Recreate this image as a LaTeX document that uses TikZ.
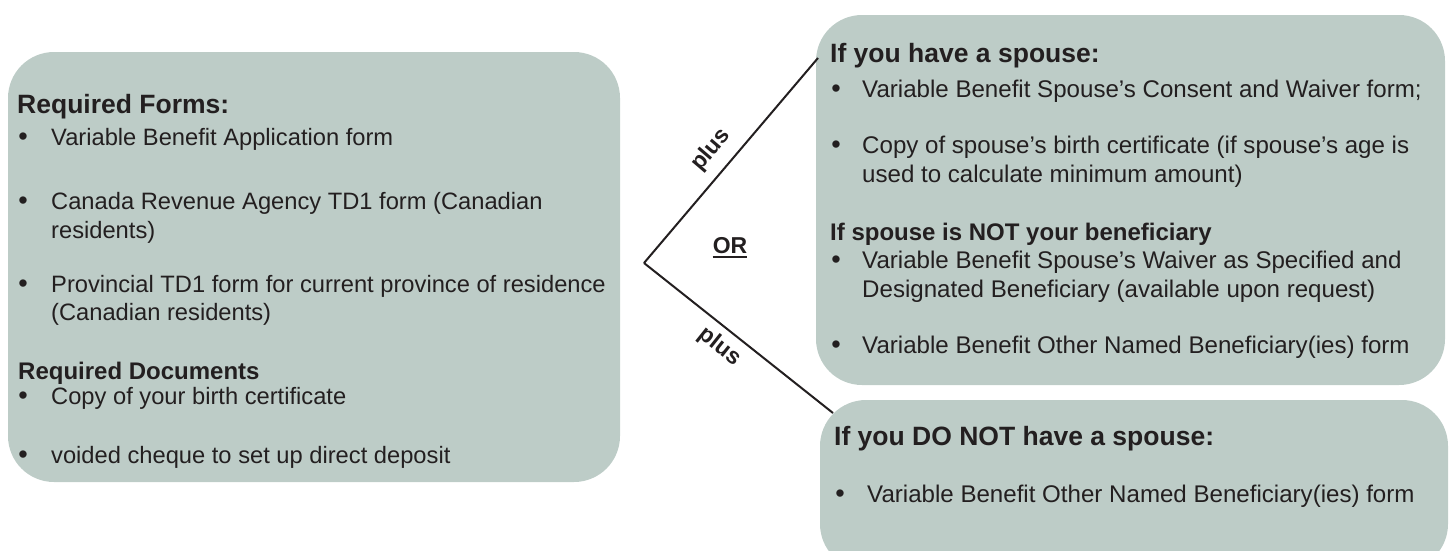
\documentclass[tikz,border=0pt]{standalone}
\usepackage{fontspec}
\setmainfont{Liberation Sans}
\definecolor{boxfill}{HTML}{BDCCC7}
\definecolor{ink}{HTML}{231F20}
\begin{document}
\begin{tikzpicture}[x=1pt,y=-1pt,
  panel/.style={fill=boxfill, draw=none, rounded corners=46pt, inner sep=0pt},
  body/.style={anchor=base west, inner sep=0pt, text=ink, font=\fontsize{23.7}{28}\selectfont},
  bodyr/.style={anchor=base west, inner sep=0pt, text=ink, font=\fontsize{24.1}{28}\selectfont},
  bul/.style={anchor=base, inner sep=0pt, text=ink, font=\fontsize{27}{28}\selectfont},
  head/.style={anchor=base west, inner sep=0pt, text=ink, font=\fontsize{26.5}{30}\selectfont\bfseries},
  subhead/.style={anchor=base west, inner sep=0pt, text=ink, font=\fontsize{24}{28}\selectfont\bfseries},
  conn/.style={draw=ink, line width=2pt},
  lbl/.style={inner sep=0pt, text=ink, font=\fontsize{23}{26}\selectfont\bfseries}
]
\useasboundingbox (0,0) rectangle (1453,550);
\clip (0,0) rectangle (1453,550);

% panels
\node[panel, minimum width=612pt, minimum height=430pt] (left) at (314,267) {};
\node[panel, minimum width=629pt, minimum height=370pt] (spouse) at (1130.5,200) {};
\node[panel, minimum width=628pt, minimum height=170pt] (nospouse) at (1134,485) {};

% left panel text
\node[head] (h1) at (17,113) {Required Forms:};
\node[bul] (b1) at (23,145) {\textbullet};
\node[body] (t1) at (51,145) {Variable Benefit Application form};
\node[bul] (b2) at (23,209) {\textbullet};
\node[body] (t2) at (51,209) {Canada Revenue Agency TD1 form (Canadian};
\node[body] (t2b) at (51,238) {residents)};
\node[bul] (b3) at (23,292) {\textbullet};
\node[body] (t3) at (51,292) {Provincial TD1 form for current province of residence};
\node[body] (t3b) at (51,320) {(Canadian residents)};
\node[subhead] (h2) at (18,379) {Required Documents};
\node[bul] (b4) at (23,404) {\textbullet};
\node[body] (t4) at (51,404) {Copy of your birth certificate};
\node[bul] (b5) at (23,463) {\textbullet};
\node[body] (t5) at (51,463) {voided cheque to set up direct deposit};

% top right panel text
\node[head] (h3) at (830,62) {If you have a spouse:};
\node[bul] (b6) at (836,97) {\textbullet};
\node[bodyr] (t6) at (862,97) {Variable Benefit Spouse’s Consent and Waiver form;};
\node[bul] (b7) at (836,153) {\textbullet};
\node[bodyr] (t7) at (862,153) {Copy of spouse’s birth certificate (if spouse’s age is};
\node[bodyr] (t7b) at (862,182) {used to calculate minimum amount)};
\node[subhead] (h4) at (830,240) {If spouse is NOT your beneficiary};
\node[bul] (b8) at (836,268) {\textbullet};
\node[bodyr] (t8) at (862,268) {Variable Benefit Spouse’s Waiver as Specified and};
\node[bodyr] (t8b) at (862,297) {Designated Beneficiary (available upon request)};
\node[bul] (b9) at (836,353) {\textbullet};
\node[bodyr] (t9) at (862,353) {Variable Benefit Other Named Beneficiary(ies) form};

% bottom right panel text
\node[head] (h5) at (834,445) {If you DO NOT have a spouse:};
\node[bul] (b10) at (840,502) {\textbullet};
\node[bodyr] (t10) at (867,502) {Variable Benefit Other Named Beneficiary(ies) form};

% connectors
\coordinate (fork) at (644,263);
\coordinate (upend) at (818,58);
\coordinate (downend) at (833,413);
\draw[conn] (fork) -- (upend);
\draw[conn] (fork) -- (downend);

% labels
\node[lbl, rotate=49.5] (plusup) at (711,150) {plus};
\node[lbl, rotate=-38.6] (plusdown) at (720,347) {plus};
\node[lbl] (or) at (730,246) {OR};
\draw[ink, line width=2pt] ([yshift=-3pt]or.south west) -- ([yshift=-3pt]or.south east);
\end{tikzpicture}
\end{document}
